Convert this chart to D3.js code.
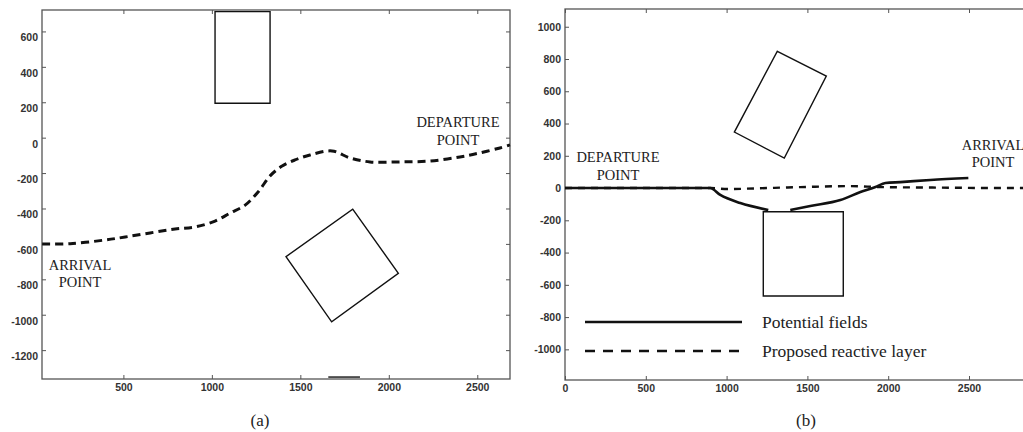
<!DOCTYPE html>
<html>
<head>
<meta charset="utf-8">
<script src="https://cdn.jsdelivr.net/npm/d3@7/dist/d3.min.js"></script>
<style>
  body { margin: 0; background: #fff; }
  .tick text { font-family: "Liberation Sans", Arial, sans-serif; font-size: 10.5px; font-weight: bold; fill: #333; }
  .tick line { stroke: #555; }
  .frame { fill: none; stroke: #555; stroke-width: 1.3; }
  .obstacle { fill: none; stroke: #111; stroke-width: 1.4; }
  .note { font-family: "Liberation Serif", "Times New Roman", serif; font-size: 14.5px; fill: #222; text-anchor: middle; }
  .legend text { font-family: "Liberation Serif", "Times New Roman", serif; font-size: 17.5px; fill: #222; }
  .caption { font-family: "Liberation Serif", "Times New Roman", serif; font-size: 17px; fill: #222; text-anchor: middle; }
</style>
</head>
<body>
<div id="chart"></div>
<script>
// ---- panel (a) data ----
var pathAX = [41, 199, 396, 510, 651, 792, 905, 1018, 1103, 1188, 1261, 1329, 1397, 1470, 1555, 1679, 1781, 1894, 2063, 2233, 2402, 2515, 2628, 2685];
var pathAY = [-601, -599, -578, -561, -538, -516, -504, -471, -426, -381, -307, -216, -160, -126, -98, -75, -115, -137, -137, -132, -109, -86, -58, -41];
var rectAX = [1018, 1329, 1329, 1018];
var rectAY = [712, 712, 194, 194];
var squareAX = [1796, 2054, 1677, 1419];
var squareAY = [-404, -766, -1040, -672];
var edgeAX = [1658, 1837];
var edgeAY = [-1352, -1352];
var ticksAX = [500, 1000, 1500, 2000, 2500];
var ticksAY = [600, 400, 200, 0, -200, -400, -600, -800, -1000, -1200];

// ---- panel (b) data ----
var fieldsX1 = [0, 899, 961, 1085, 1258];
var fieldsY1 = [0, 0, -43, -93, -136];
var fieldsX2 = [1394, 1518, 1704, 1828, 1921, 1983, 2075, 2261, 2496];
var fieldsY2 = [-136, -111, -74, -25, 6, 31, 37, 50, 62];
var reactiveX = [0, 900, 1005, 1250, 1456, 1766, 1952, 2150, 2400, 2650, 2900];
var reactiveY = [0, 0, -6, 0, 6, 12, 6, 4, 2, 0, 0];
var rectBX = [1314, 1617, 1357, 1048];
var rectBY = [848, 694, 186, 347];
var boxBX = [1227, 1722, 1722, 1227];
var boxBY = [-147, -147, -669, -669];
var ticksBX = [0, 500, 1000, 1500, 2000, 2500];
var ticksBY = [1000, 800, 600, 400, 200, 0, -200, -400, -600, -800, -1000];
var legendLabels = ["Potential fields", "Proposed reactive layer"];

var width = 1023, height = 432;

var svg = d3.select("#chart").append("svg")
  .attr("width", width)
  .attr("height", height);

function zip(xs, ys) {
  return xs.map(function(d, i) { return [d, ys[i]]; });
}

function plain(d) { return String(d); }

function drawAxes(g, x, y, xt, yt, labelShift) {
  var x0 = x.range()[0], x1 = x.range()[1];
  var y0 = y.range()[0], y1 = y.range()[1];
  g.append("g").attr("transform", "translate(0," + y0 + ")")
    .call(d3.axisBottom(x).tickValues(xt).tickFormat(plain).tickSize(-4).tickPadding(5));
  var ay = g.append("g").attr("transform", "translate(" + x0 + ",0)")
    .call(d3.axisLeft(y).tickValues(yt).tickFormat(plain).tickSize(-4).tickPadding(4));
  ay.selectAll("text").attr("transform", "translate(0," + labelShift + ")");
  g.append("g").attr("transform", "translate(0," + y1 + ")")
    .call(d3.axisTop(x).tickValues(xt).tickSize(-4).tickFormat(""));
  g.append("g").attr("transform", "translate(" + x1 + ",0)")
    .call(d3.axisRight(y).tickValues(yt).tickSize(-4).tickFormat(""));
  g.selectAll(".domain").remove();
  g.append("rect").attr("class", "frame")
    .attr("x", x0).attr("y", y1)
    .attr("width", x1 - x0).attr("height", y0 - y1);
}

// ---- panel (a) ----
var xA = d3.scaleLinear().domain([40, 2685]).range([42, 510]);
var yA = d3.scaleLinear().domain([-1363, 721]).range([379, 10]);
var gA = svg.append("g");
drawAxes(gA, xA, yA, ticksAX, ticksAY, 6);

var lineA = d3.line()
  .x(function(d) { return xA(d[0]); })
  .y(function(d) { return yA(d[1]); });

gA.append("path").attr("class", "obstacle")
  .attr("d", lineA(zip(rectAX, rectAY)) + "Z");
gA.append("path").attr("class", "obstacle")
  .attr("d", lineA(zip(squareAX, squareAY)) + "Z");
gA.append("path").attr("class", "obstacle")
  .attr("stroke-width", 0.7).attr("stroke", "#777")
  .attr("d", lineA(zip(edgeAX, edgeAY)));

gA.append("path")
  .attr("fill", "none")
  .attr("stroke", "#111")
  .attr("stroke-width", 3)
  .attr("stroke-dasharray", "8,5")
  .attr("d", lineA.curve(d3.curveCatmullRom)(zip(pathAX, pathAY)));

gA.append("text").attr("class", "note").attr("x", 458).attr("y", 127).text("DEPARTURE");
gA.append("text").attr("class", "note").attr("x", 458).attr("y", 145).text("POINT");
gA.append("text").attr("class", "note").attr("x", 80).attr("y", 270).text("ARRIVAL");
gA.append("text").attr("class", "note").attr("x", 80).attr("y", 287).text("POINT");
gA.append("text").attr("class", "caption").attr("x", 260).attr("y", 426).text("(a)");

// ---- panel (b) ----
var xB = d3.scaleLinear().domain([0, 2900]).range([565, 565 + 2900 * 0.1616]);
var yB = d3.scaleLinear().domain([-1190, 1110]).range([380, 9]);
var gB = svg.append("g");
drawAxes(gB, xB, yB, ticksBX, ticksBY, 0);

var lineB = d3.line()
  .x(function(d) { return xB(d[0]); })
  .y(function(d) { return yB(d[1]); });

gB.append("path").attr("class", "obstacle")
  .attr("d", lineB(zip(rectBX, rectBY)) + "Z");
gB.append("path").attr("class", "obstacle")
  .attr("d", lineB(zip(boxBX, boxBY)) + "Z");

var smoothB = d3.line()
  .x(function(d) { return xB(d[0]); })
  .y(function(d) { return yB(d[1]); })
  .curve(d3.curveMonotoneX);

gB.append("path")
  .attr("fill", "none").attr("stroke", "#111")
  .attr("stroke-width", 2.4).attr("stroke-dasharray", "7,6")
  .attr("d", smoothB(zip(reactiveX, reactiveY)));

[zip(fieldsX1, fieldsY1), zip(fieldsX2, fieldsY2)].forEach(function(pts) {
  gB.append("path")
    .attr("fill", "none").attr("stroke", "#111")
    .attr("stroke-width", 2.6)
    .attr("d", smoothB(pts));
});

gB.append("text").attr("class", "note").attr("x", 618).attr("y", 162).text("DEPARTURE");
gB.append("text").attr("class", "note").attr("x", 618).attr("y", 180).text("POINT");
gB.append("text").attr("class", "note").attr("x", 993).attr("y", 150).text("ARRIVAL");
gB.append("text").attr("class", "note").attr("x", 993).attr("y", 167).text("POINT");

var legend = gB.append("g").attr("class", "legend")
  .selectAll("g")
  .data(legendLabels)
  .enter().append("g")
    .attr("transform", function(d, i) { return "translate(585," + (322 + i * 29) + ")"; });

legend.append("line")
  .attr("x1", 0).attr("x2", 157)
  .attr("stroke", "#111")
  .attr("stroke-width", 2.4)
  .attr("stroke-dasharray", function(d, i) { return i ? "10,8" : null; });

legend.append("text")
  .attr("x", 177)
  .attr("dy", "0.33em")
  .text(function(d) { return d; });

gB.append("text").attr("class", "caption").attr("x", 806).attr("y", 426).text("(b)");
</script>
</body>
</html>
